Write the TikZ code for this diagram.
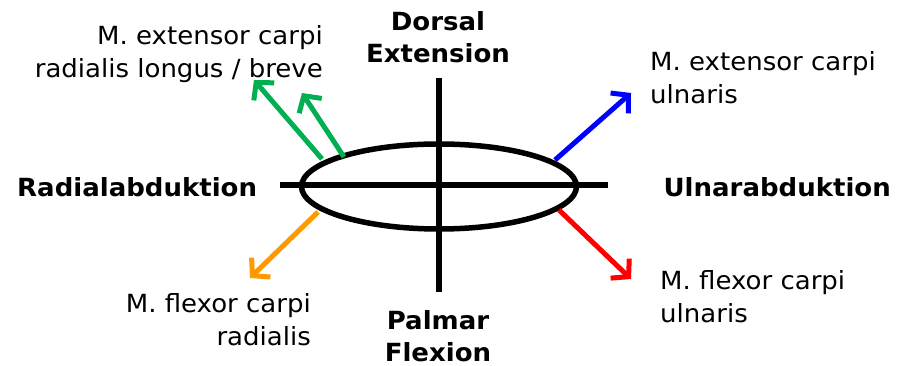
\documentclass[tikz,border=0pt]{standalone}
\usepackage{fontspec}
\setmainfont{DejaVu Sans}[FakeStretch=1.04]
\usetikzlibrary{arrows.meta}
\definecolor{mgreen}{RGB}{0,176,80}
\definecolor{mblue}{RGB}{0,0,255}
\definecolor{morange}{RGB}{255,153,0}
\definecolor{mred}{RGB}{255,0,0}
\tikzset{
  axis/.style={line width=5.5pt, black},
  muscle/.style={line width=5pt, -{Straight Barb[length=12pt,width=27pt,line width=5pt]}},
  lbl/.style={inner sep=0pt, font=\fontsize{25}{33}\selectfont},
  blbl/.style={inner sep=0pt, font=\fontsize{25}{32}\selectfont\bfseries}
}
\begin{document}
\begin{tikzpicture}[x=1pt,y=-1pt]
\useasboundingbox (0,0) rectangle (900,366);
% axes
\coordinate (hl) at (280,185);
\coordinate (hr) at (608,185);
\coordinate (vt) at (439,78);
\coordinate (vb) at (439,292);
\draw[axis] (hl) -- (hr);
\draw[axis] (vt) -- (vb);
\draw[axis] (439,186.5) ellipse [x radius=137.5, y radius=42.5];
% arrow coordinates
\coordinate (g1s) at (322,159);
\coordinate (g1e) at (254,80);
\coordinate (g2s) at (344,157);
\coordinate (g2e) at (302,93);
\coordinate (bs) at (555,160);
\coordinate (be) at (631,93);
\coordinate (os) at (318,212);
\coordinate (oe) at (250,278);
\coordinate (rs) at (559,210);
\coordinate (re) at (631,279);
\draw[muscle, mgreen] (g1s) -- (g1e);
\draw[muscle, mgreen] (g2s) -- (g2e);
\draw[muscle, mblue] (bs) -- (be);
\draw[muscle, morange] (os) -- (oe);
\draw[muscle, mred] (rs) -- (re);
% labels
\node[lbl, anchor=east, align=right] (ecrl) at (323,54) {M. extensor carpi\\radialis longus / breve};
\node[blbl, align=center] (dors) at (438,37) {Dorsal\\Extension};
\node[blbl, anchor=west] (rad) at (17,187) {Radialabduktion};
\node[blbl, anchor=east] (uln) at (891,187) {Ulnarabduktion};
\node[lbl, anchor=west, align=left] (ecu) at (650,78) {M. extensor carpi\\ulnaris};
\node[lbl, anchor=east, align=right] (fcr) at (311,320) {M. flexor carpi\\radialis};
\node[blbl, align=center] (palm) at (438,336) {Palmar\\Flexion};
\node[lbl, anchor=west, align=left] (fcu) at (660,297) {M. flexor carpi\\ulnaris};
\end{tikzpicture}
\end{document}
